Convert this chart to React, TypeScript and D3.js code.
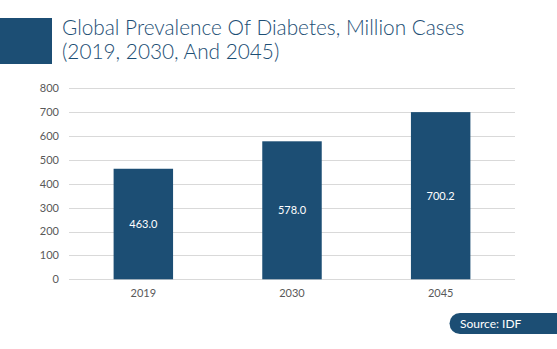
import React from "react";
import * as d3 from "d3";

const categories = ["2019", "2030", "2045"];
const values = [463.0, 578.0, 700.2];
const yTicks = [0, 100, 200, 300, 400, 500, 600, 700, 800];
const titleLines = ["Global Prevalence Of Diabetes, Million Cases", "(2019, 2030, And 2045)"];
const sourceText = "Source: IDF";

const W = 557;
const H = 349;
const navy = "#1c4e74";
const font = "Lato, 'Open Sans', sans-serif";

export default function App() {
  const x = d3.scaleBand<string>().domain(categories).range([69, 515]).paddingInner(0.6).paddingOuter(0.3);
  const y = d3.scaleLinear().domain([0, 800]).range([279.3, 88.3]);

  return (
    <svg width={W} height={H} style={{ position: "absolute", left: 0, top: 0, background: "#fff" }}>
      <rect x={0} y={18} width={52} height={46} fill={navy} />
      {titleLines.map((t, i) => (
        <text key={i} x={62} y={35 + i * 24} fontFamily={font} fontSize={20.8} fill={navy} fontWeight={300}>
          {t}
        </text>
      ))}
      {yTicks.map((t) => (
        <g key={t}>
          <line x1={69} x2={515} y1={Math.round(y(t)) + 0.5} y2={Math.round(y(t)) + 0.5} stroke="#d9d9d9" strokeWidth={1} />
          <text x={59} y={y(t)} dy="0.35em" textAnchor="end" fontFamily={font} fontSize={11} fill="#595959">
            {t}
          </text>
        </g>
      ))}
      {categories.map((c, i) => (
        <g key={c}>
          <rect x={x(c)} y={y(values[i])} width={x.bandwidth()} height={y(0) - y(values[i])} fill={navy} />
          <text
            x={(x(c) as number) + x.bandwidth() / 2}
            y={(y(values[i]) + y(0)) / 2}
            dy="0.35em"
            textAnchor="middle"
            fontFamily={font}
            fontSize={11}
            fill="#fff"
          >
            {values[i].toFixed(1)}
          </text>
          <text
            x={(x(c) as number) + x.bandwidth() / 2}
            y={293}
            dy="0.35em"
            textAnchor="middle"
            fontFamily={font}
            fontSize={11}
            fill="#595959"
          >
            {c}
          </text>
        </g>
      ))}
      <path d="M 460 313 H 557 V 334 H 460 A 10.5 10.5 0 0 1 460 313 Z" fill={navy} />
      <text x={460} y={323.5} dy="0.35em" fontFamily={font} fontSize={12} fill="#fff">
        {sourceText}
      </text>
    </svg>
  );
}
